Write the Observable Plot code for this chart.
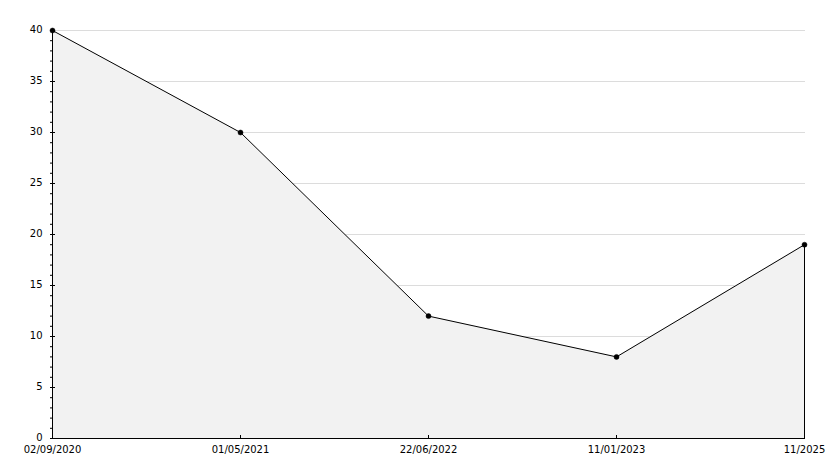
<!DOCTYPE html>
<html><head><meta charset="utf-8">
<script src="https://cdn.jsdelivr.net/npm/d3@7"></script>
<script src="https://cdn.jsdelivr.net/npm/@observablehq/plot@0.6"></script>
<style>body{margin:0;background:#fff}</style>
</head><body><div id="chart"></div>
<script>
const dates = ["02/09/2020", "01/05/2021", "22/06/2022", "11/01/2023", "11/2025"];
const values = [40, 30, 12, 8, 19];
const majorTicks = [0, 5, 10, 15, 20, 25, 30, 35, 40];
const minorTicks = d3.range(0, 41, 1);

const data = dates.map((d, i) => ({date: d, value: values[i]}));
const last = data[data.length - 1];

const chart = Plot.plot({
  width: 834, height: 468,
  marginLeft: 50, marginRight: 29, marginTop: 30, marginBottom: 30,
  style: {fontFamily: "DejaVu Sans", fontSize: "10px", color: "#000", background: "#fff"},
  x: {type: "point", domain: dates, padding: 0, label: null},
  y: {domain: [0, 40], label: null},
  marks: [
    Plot.gridY(majorTicks, {stroke: "#dcdcdc", strokeOpacity: 1}),
    Plot.areaY(data, {x: "date", y: "value", fill: "#f2f2f2", curve: "linear"}),
    Plot.lineY(data, {x: "date", y: "value", stroke: "#000", strokeWidth: 1}),
    Plot.ruleX([last], {x: "date", y1: 0, y2: "value", stroke: "#000"}),
    Plot.axisY(minorTicks, {anchor: "left", tickSize: 3, dx: 3, text: null, label: null, stroke: "#000"}),
    Plot.axisY(majorTicks, {anchor: "left", tickSize: 5, dx: 5, text: null, label: null, stroke: "#000"}),
    Plot.axisY(majorTicks, {anchor: "left", tickSize: 0, tickPadding: 8, dy: -1, label: null, fill: "#000"}),
    Plot.axisX(dates, {anchor: "bottom", tickSize: 3, dy: -3, text: null, label: null, stroke: "#000"}),
    Plot.axisX(dates, {anchor: "bottom", tickSize: 0, tickPadding: 7, label: null, fill: "#000"}),
    Plot.ruleX([dates[0]], {stroke: "#000"}),
    Plot.ruleY([0], {stroke: "#000"}),
    Plot.dot(data, {x: "date", y: "value", r: 2.5, fill: "#000", stroke: "#000", strokeWidth: 0.5})
  ]
});
document.getElementById("chart").appendChild(chart);
</script>
</body></html>
